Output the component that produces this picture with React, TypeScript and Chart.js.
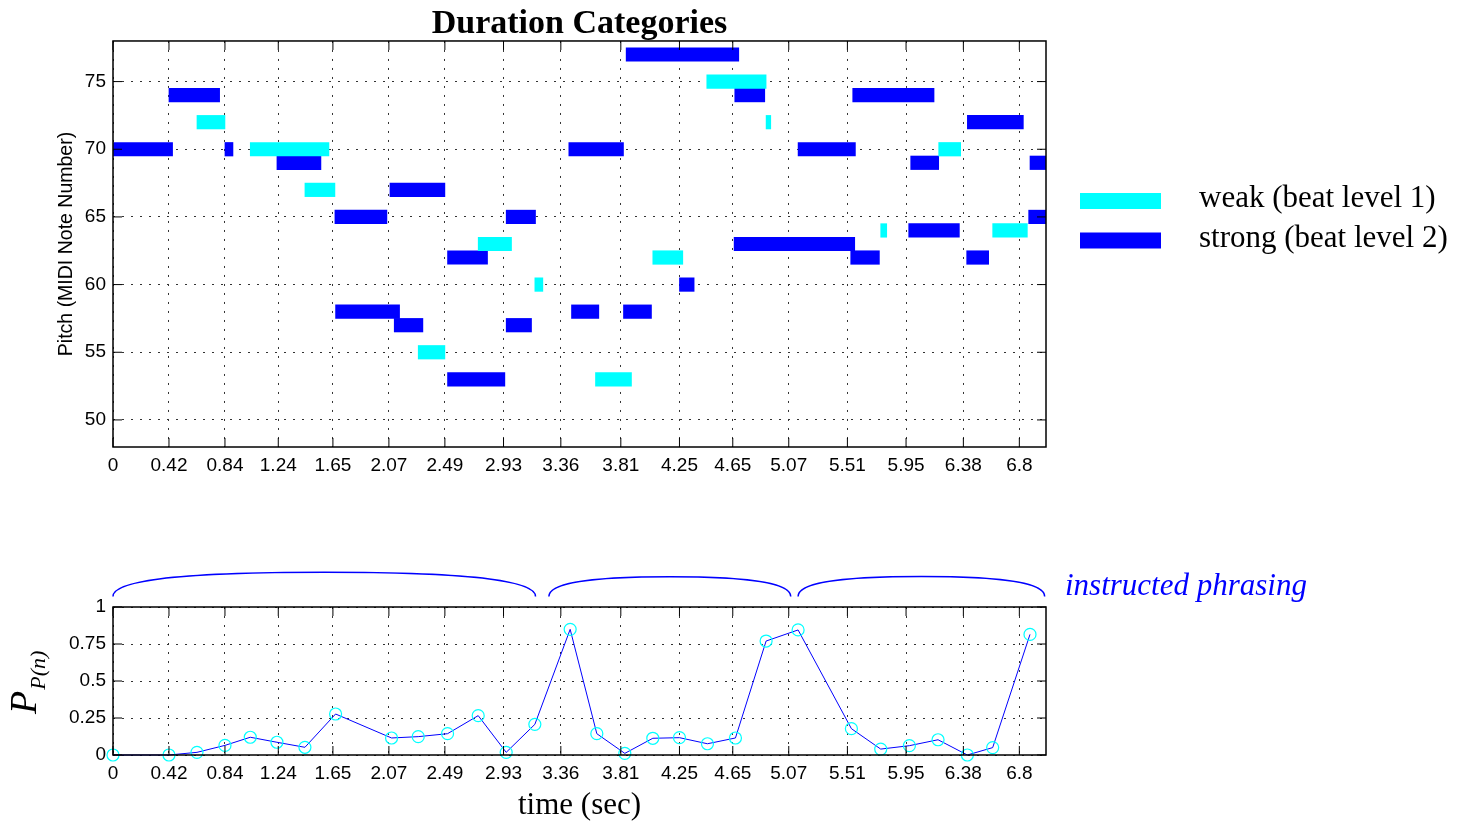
import React, { useEffect, useRef } from 'react';
import { Chart, registerables } from 'chart.js';

Chart.register(...registerables);

// ---- Axis ticks ----
const timeTickValues = [0, 0.42, 0.84, 1.24, 1.65, 2.07, 2.49, 2.93, 3.36, 3.81, 4.25, 4.65, 5.07, 5.51, 5.95, 6.38, 6.8];
const timeTickLabels = ['0', '0.42', '0.84', '1.24', '1.65', '2.07', '2.49', '2.93', '3.36', '3.81', '4.25', '4.65', '5.07', '5.51', '5.95', '6.38', '6.8'];
const pitchTickValues = [50, 55, 60, 65, 70, 75];
const probTickValues = [0, 0.25, 0.5, 0.75, 1];
const probTickLabels = ['0', '0.25', '0.5', '0.75', '1'];

// ---- Weak notes (beat level 1) ----
const weakPitch = [72, 70, 67, 55, 63, 60, 53, 62, 75, 72, 64, 70, 64];
const weakStart = [0.63, 1.03, 1.44, 2.29, 2.74, 3.165, 3.62, 4.05, 4.455, 4.9, 5.76, 6.195, 6.6];
const weakEnd = [0.84, 1.62, 1.665, 2.49, 2.99, 3.225, 3.89, 4.275, 4.9, 4.935, 5.805, 6.36, 6.86];

// ---- Strong notes (beat level 2) ----
const strongPitch = [70, 74, 70, 69, 65, 58, 67, 57, 62, 53, 65, 57, 70, 58, 58, 77, 60, 74, 63, 70, 62, 74, 64, 69, 72, 62, 69, 65];
const strongStart = [0, 0.42, 0.84, 1.23, 1.665, 1.67, 2.078, 2.11, 2.51, 2.51, 2.95, 2.95, 3.42, 3.44, 3.83, 3.85, 4.25, 4.665, 4.66, 5.14, 5.535, 5.55, 5.97, 5.985, 6.41, 6.405, 6.88, 6.87];
const strongEnd = [0.447, 0.8, 0.9, 1.56, 2.055, 2.15, 2.49, 2.325, 2.81, 2.94, 3.17, 3.14, 3.83, 3.645, 4.04, 4.695, 4.36, 4.89, 5.565, 5.57, 5.75, 6.16, 6.35, 6.195, 6.83, 6.57, 7.05, 7.05];

// ---- Phrase-boundary probability ----
const onsetTimes = [0, 0.42, 0.63, 0.84, 1.03, 1.23, 1.44, 1.67, 2.09, 2.29, 2.51, 2.74, 2.95, 3.165, 3.43, 3.63, 3.84, 4.05, 4.25, 4.46, 4.67, 4.9, 5.14, 5.54, 5.76, 5.975, 6.19, 6.41, 6.6, 6.88];
const probValues = [0, 0, 0.018, 0.065, 0.12, 0.086, 0.052, 0.277, 0.115, 0.124, 0.144, 0.266, 0.018, 0.207, 0.849, 0.144, 0.011, 0.113, 0.117, 0.076, 0.115, 0.77, 0.845, 0.178, 0.04, 0.063, 0.103, 0, 0.05, 0.815];

// ---- Instructed phrasing ----
const phraseStart = [0, 3.27, 5.14];
const phraseEnd = [3.17, 5.085, 6.99];

const SANS = '"Liberation Sans", Arial, sans-serif';
const SERIF = '"Liberation Serif", "Times New Roman", serif';
const CYAN = '#00FFFF';
const BLUE = '#0000FF';

const framePlugin = {
  id: 'frame',
  afterDatasetsDraw(chart: any) {
    const { ctx, chartArea } = chart;
    const { left, right, top, bottom } = chartArea;
    const xs = chart.scales.x;
    const ys = chart.scales.y;
    const L = 9;
    ctx.save();
    ctx.strokeStyle = '#000';
    ctx.lineWidth = 1;
    ctx.setLineDash([]);
    ctx.beginPath();
    xs.ticks.forEach((t: any) => {
      const px = xs.getPixelForValue(t.value);
      ctx.moveTo(px, bottom);
      ctx.lineTo(px, bottom - L);
      ctx.moveTo(px, top);
      ctx.lineTo(px, top + L);
    });
    ys.ticks.forEach((t: any) => {
      const py = ys.getPixelForValue(t.value);
      ctx.moveTo(left, py);
      ctx.lineTo(left + L, py);
      ctx.moveTo(right, py);
      ctx.lineTo(right - L, py);
    });
    ctx.stroke();
    ctx.lineWidth = 1.5;
    ctx.strokeRect(left, top, right - left, bottom - top);
    ctx.restore();
  },
};

const legendPlugin = {
  id: 'sideLegend',
  afterDraw(chart: any) {
    const { ctx } = chart;
    ctx.save();
    chart.data.datasets.forEach((ds: any, i: number) => {
      const y = 193 + i * 39.5;
      ctx.fillStyle = ds.backgroundColor;
      ctx.fillRect(1080, y, 81, 16);
      ctx.fillStyle = '#000';
      ctx.font = `31px ${SERIF}`;
      ctx.textBaseline = 'alphabetic';
      ctx.textAlign = 'left';
      ctx.fillText(ds.label, 1199, y + 14);
    });
    ctx.restore();
  },
};

const phrasePlugin = {
  id: 'phrasing',
  afterDraw(chart: any) {
    const { ctx } = chart;
    const xs = chart.scales.x;
    ctx.save();
    ctx.strokeStyle = BLUE;
    ctx.lineWidth = 1.5;
    phraseStart.forEach((s, i) => {
      const x0 = xs.getPixelForValue(s);
      const x1 = xs.getPixelForValue(phraseEnd[i]);
      const w = x1 - x0;
      const h = 14 + 0.024 * w;
      const yb = 96.5;
      const yt = yb - h;
      const xm = (x0 + x1) / 2;
      const hw = w / 2;
      ctx.beginPath();
      ctx.moveTo(x0, yb);
      ctx.bezierCurveTo(x0, yb - 0.6 * h, x0 + 0.25 * hw, yt, xm, yt);
      ctx.bezierCurveTo(x1 - 0.25 * hw, yt, x1, yb - 0.6 * h, x1, yb);
      ctx.stroke();
    });
    ctx.fillStyle = BLUE;
    ctx.font = `italic 31px ${SERIF}`;
    ctx.textAlign = 'left';
    ctx.textBaseline = 'alphabetic';
    ctx.fillText('instructed phrasing', 1065, 95);

    // y label P_{P(n)}
    ctx.fillStyle = '#000';
    ctx.translate(36, 214);
    ctx.rotate(-Math.PI / 2);
    ctx.font = `italic 38px ${SERIF}`;
    ctx.fillText('P', 0, 0);
    const pw = ctx.measureText('P').width;
    ctx.font = `italic 22px ${SERIF}`;
    ctx.fillText('P(n)', pw + 1, 9);
    ctx.restore();
  },
};

function gridOpts() {
  return { color: '#333', lineWidth: 1, drawTicks: false, offset: false };
}

export default function App() {
  const topRef = useRef<HTMLCanvasElement>(null);
  const botRef = useRef<HTMLCanvasElement>(null);

  useEffect(() => {
    document.body.style.margin = '0';
    document.body.style.background = '#fff';

    const weakData = weakPitch.map((p, i) => ({ x: [weakStart[i], weakEnd[i]], y: p }));
    const strongData = strongPitch.map((p, i) => ({ x: [strongStart[i], strongEnd[i]], y: p }));

    const timeAxis = (height: number, extra: any = {}) => ({
      type: 'linear',
      min: 0,
      max: 7,
      offset: false,
      afterBuildTicks: (s: any) => {
        s.ticks = timeTickValues.map((v) => ({ value: v }));
      },
      afterFit: (s: any) => {
        s.height = height;
      },
      ticks: {
        callback: (v: number) => {
          const k = timeTickValues.indexOf(v);
          return k >= 0 ? timeTickLabels[k] : '';
        },
        autoSkip: false,
        maxRotation: 0,
        minRotation: 0,
        padding: 7,
        color: '#000',
        font: { family: SANS, size: 19 },
      },
      grid: gridOpts(),
      border: { display: false, dash: [2, 7] },
      ...extra,
    });

    const top = new Chart(topRef.current!, {
      type: 'bar',
      data: {
        datasets: [
          { label: 'weak (beat level 1)', data: weakData as any, backgroundColor: CYAN, borderWidth: 0 },
          { label: 'strong (beat level 2)', data: strongData as any, backgroundColor: BLUE, borderWidth: 0 },
        ],
      },
      options: {
        animation: false,
        responsive: false,
        events: [],
        indexAxis: 'y',
        layout: { padding: { left: 0, right: 415, top: 0, bottom: 0 } },
        datasets: { bar: { grouped: false, barPercentage: 1, categoryPercentage: 1 } } as any,
        plugins: {
          legend: { display: false },
          tooltip: { enabled: false },
          title: {
            display: true,
            fullSize: false,
            text: 'Duration Categories',
            color: '#000',
            font: { family: SERIF, size: 34, weight: 'bold', lineHeight: 0.97 },
            padding: { top: 8, bottom: 0 },
          } as any,
        },
        scales: {
          x: timeAxis(53) as any,
          y: {
            type: 'linear',
            min: 48,
            max: 78,
            offset: false,
            afterBuildTicks: (s: any) => {
              s.ticks = pitchTickValues.map((v) => ({ value: v }));
            },
            afterFit: (s: any) => {
              s.width = 113;
            },
            ticks: { padding: 7, color: '#000', font: { family: SANS, size: 19 } },
            grid: gridOpts(),
            border: { display: false, dash: [2, 7] },
            title: {
              display: true,
              text: 'Pitch (MIDI Note Number)',
              color: '#000',
              font: { family: SANS, size: 19.5 },
              padding: { top: 55, bottom: 0 },
            },
          } as any,
        },
      },
      plugins: [framePlugin, legendPlugin],
    });

    const bottom = new Chart(botRef.current!, {
      type: 'line',
      data: {
        datasets: [
          {
            label: 'P',
            data: onsetTimes.map((t, i) => ({ x: t, y: probValues[i] })),
            borderColor: BLUE,
            borderWidth: 1,
            pointRadius: 6,
            pointBorderColor: CYAN,
            pointBackgroundColor: 'rgba(0,0,0,0)',
            pointBorderWidth: 1.2,
            tension: 0,
            clip: false as any,
          },
        ],
      },
      options: {
        animation: false,
        responsive: false,
        events: [],
        layout: { padding: { left: 0, right: 415, top: 107, bottom: 0 } },
        plugins: { legend: { display: false }, tooltip: { enabled: false }, title: { display: false } },
        scales: {
          x: timeAxis(71, {
            title: {
              display: true,
              text: 'time (sec)',
              color: '#000',
              font: { family: SERIF, size: 31, lineHeight: 1.2 },
              padding: { top: 0, bottom: 2 },
            },
          }) as any,
          y: {
            type: 'linear',
            min: 0,
            max: 1,
            afterBuildTicks: (s: any) => {
              s.ticks = probTickValues.map((v) => ({ value: v }));
            },
            afterFit: (s: any) => {
              s.width = 113;
            },
            ticks: {
              padding: 7,
              color: '#000',
              font: { family: SANS, size: 19 },
              callback: (v: number) => {
                const k = probTickValues.indexOf(v);
                return k >= 0 ? probTickLabels[k] : '';
              },
            },
            grid: gridOpts(),
            border: { display: false, dash: [2, 7] },
          } as any,
        },
      },
      plugins: [framePlugin, phrasePlugin],
    });

    return () => {
      top.destroy();
      bottom.destroy();
    };
  }, []);

  return (
    <div style={{ position: 'relative', width: 1461, height: 826, background: '#fff' }}>
      <canvas ref={topRef} width={1461} height={500} style={{ position: 'absolute', left: 0, top: 0 }} />
      <canvas ref={botRef} width={1461} height={326} style={{ position: 'absolute', left: 0, top: 500 }} />
    </div>
  );
}
